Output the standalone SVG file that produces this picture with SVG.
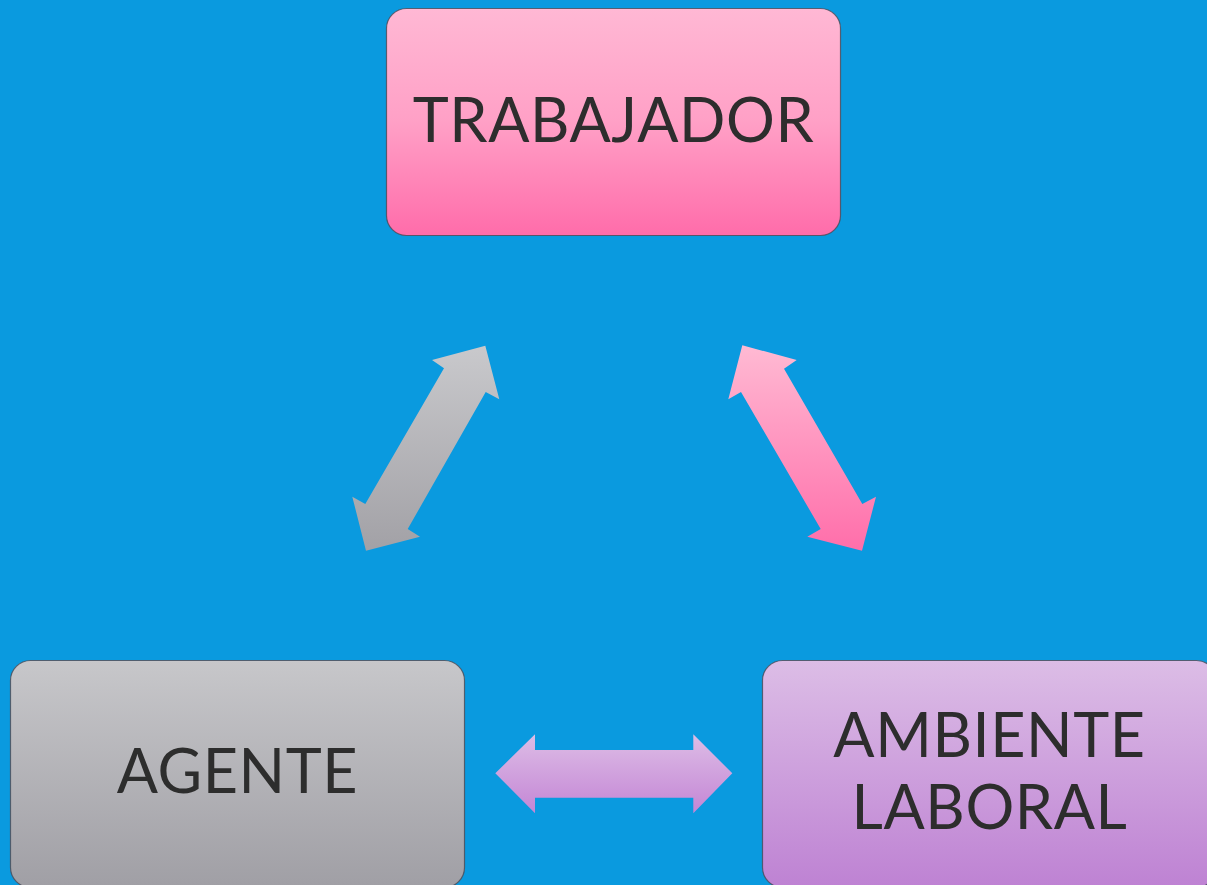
<svg xmlns="http://www.w3.org/2000/svg" width="1207" height="885" viewBox="0 0 1207 885">
<defs>
<linearGradient id="gPink" x1="0" y1="0" x2="0" y2="1"><stop offset="0" stop-color="#FFB8D4"/><stop offset="0.5" stop-color="#FFA0C6"/><stop offset="1" stop-color="#FF6CAA"/></linearGradient>
<linearGradient id="gGray" x1="0" y1="0" x2="0" y2="1"><stop offset="0" stop-color="#C7C7CA"/><stop offset="1" stop-color="#A09FA5"/></linearGradient>
<linearGradient id="gPurple" x1="0" y1="0" x2="0" y2="1"><stop offset="0" stop-color="#DCBDE6"/><stop offset="1" stop-color="#BE82D3"/></linearGradient>
<linearGradient id="aGray" gradientUnits="userSpaceOnUse" x1="0" y1="345" x2="0" y2="551"><stop offset="0" stop-color="#C9C9CC"/><stop offset="1" stop-color="#A2A1A6"/></linearGradient>
<linearGradient id="aPink" gradientUnits="userSpaceOnUse" x1="0" y1="345" x2="0" y2="551"><stop offset="0" stop-color="#FFBAD3"/><stop offset="1" stop-color="#FF6EAA"/></linearGradient>
<linearGradient id="aPurple" gradientUnits="userSpaceOnUse" x1="0" y1="734" x2="0" y2="813"><stop offset="0" stop-color="#DDBDE6"/><stop offset="1" stop-color="#C486D5"/></linearGradient>
</defs>
<style>
.box{stroke:#4a4a55;stroke-width:1.2;stroke-opacity:0.8}
.lbl{font-family:Lato,"Open Sans",sans-serif;font-size:61px;font-weight:400;letter-spacing:0.6px;fill:#2d2d2d;text-anchor:middle}
</style>
<rect width="1207" height="885" fill="#0A9ADF"/>
<g id="connectors">
<polygon fill="url(#aGray)" points="485.3,345.7 499.3,399.3 485.7,392 407.7,529 420,536.7 366,550.7 352.3,496.7 365.3,504 444,368.3 432,360"/>
<polygon fill="url(#aPink)" points="742.3,345.3 796.7,360 784,368.7 862.3,504 876,496.7 862,550.7 807.3,536.7 820.7,529 741,392 728.3,399.3"/>
<polygon fill="url(#aPurple)" points="495.3,773.3 535,734.3 535,750 693.3,750 693.3,734.3 732.3,773.3 693.3,813.3 693.3,797.7 535,797.7 535,813.3"/>
</g>
<g id="trabajador">
<rect class="box" x="386.5" y="8.5" width="454" height="227" rx="20" fill="url(#gPink)"/>
<text class="lbl" x="613.5" y="142">TRABAJADOR</text>
</g>
<g id="agente">
<rect class="box" x="10.5" y="660.5" width="454" height="227" rx="20" fill="url(#gGray)"/>
<text class="lbl" x="237.5" y="793">AGENTE</text>
</g>
<g id="ambiente">
<rect class="box" x="762.5" y="660.5" width="454" height="227" rx="20" fill="url(#gPurple)"/>
<text class="lbl" x="989.5" y="757">AMBIENTE</text>
<text class="lbl" x="989.5" y="829">LABORAL</text>
</g>
</svg>
